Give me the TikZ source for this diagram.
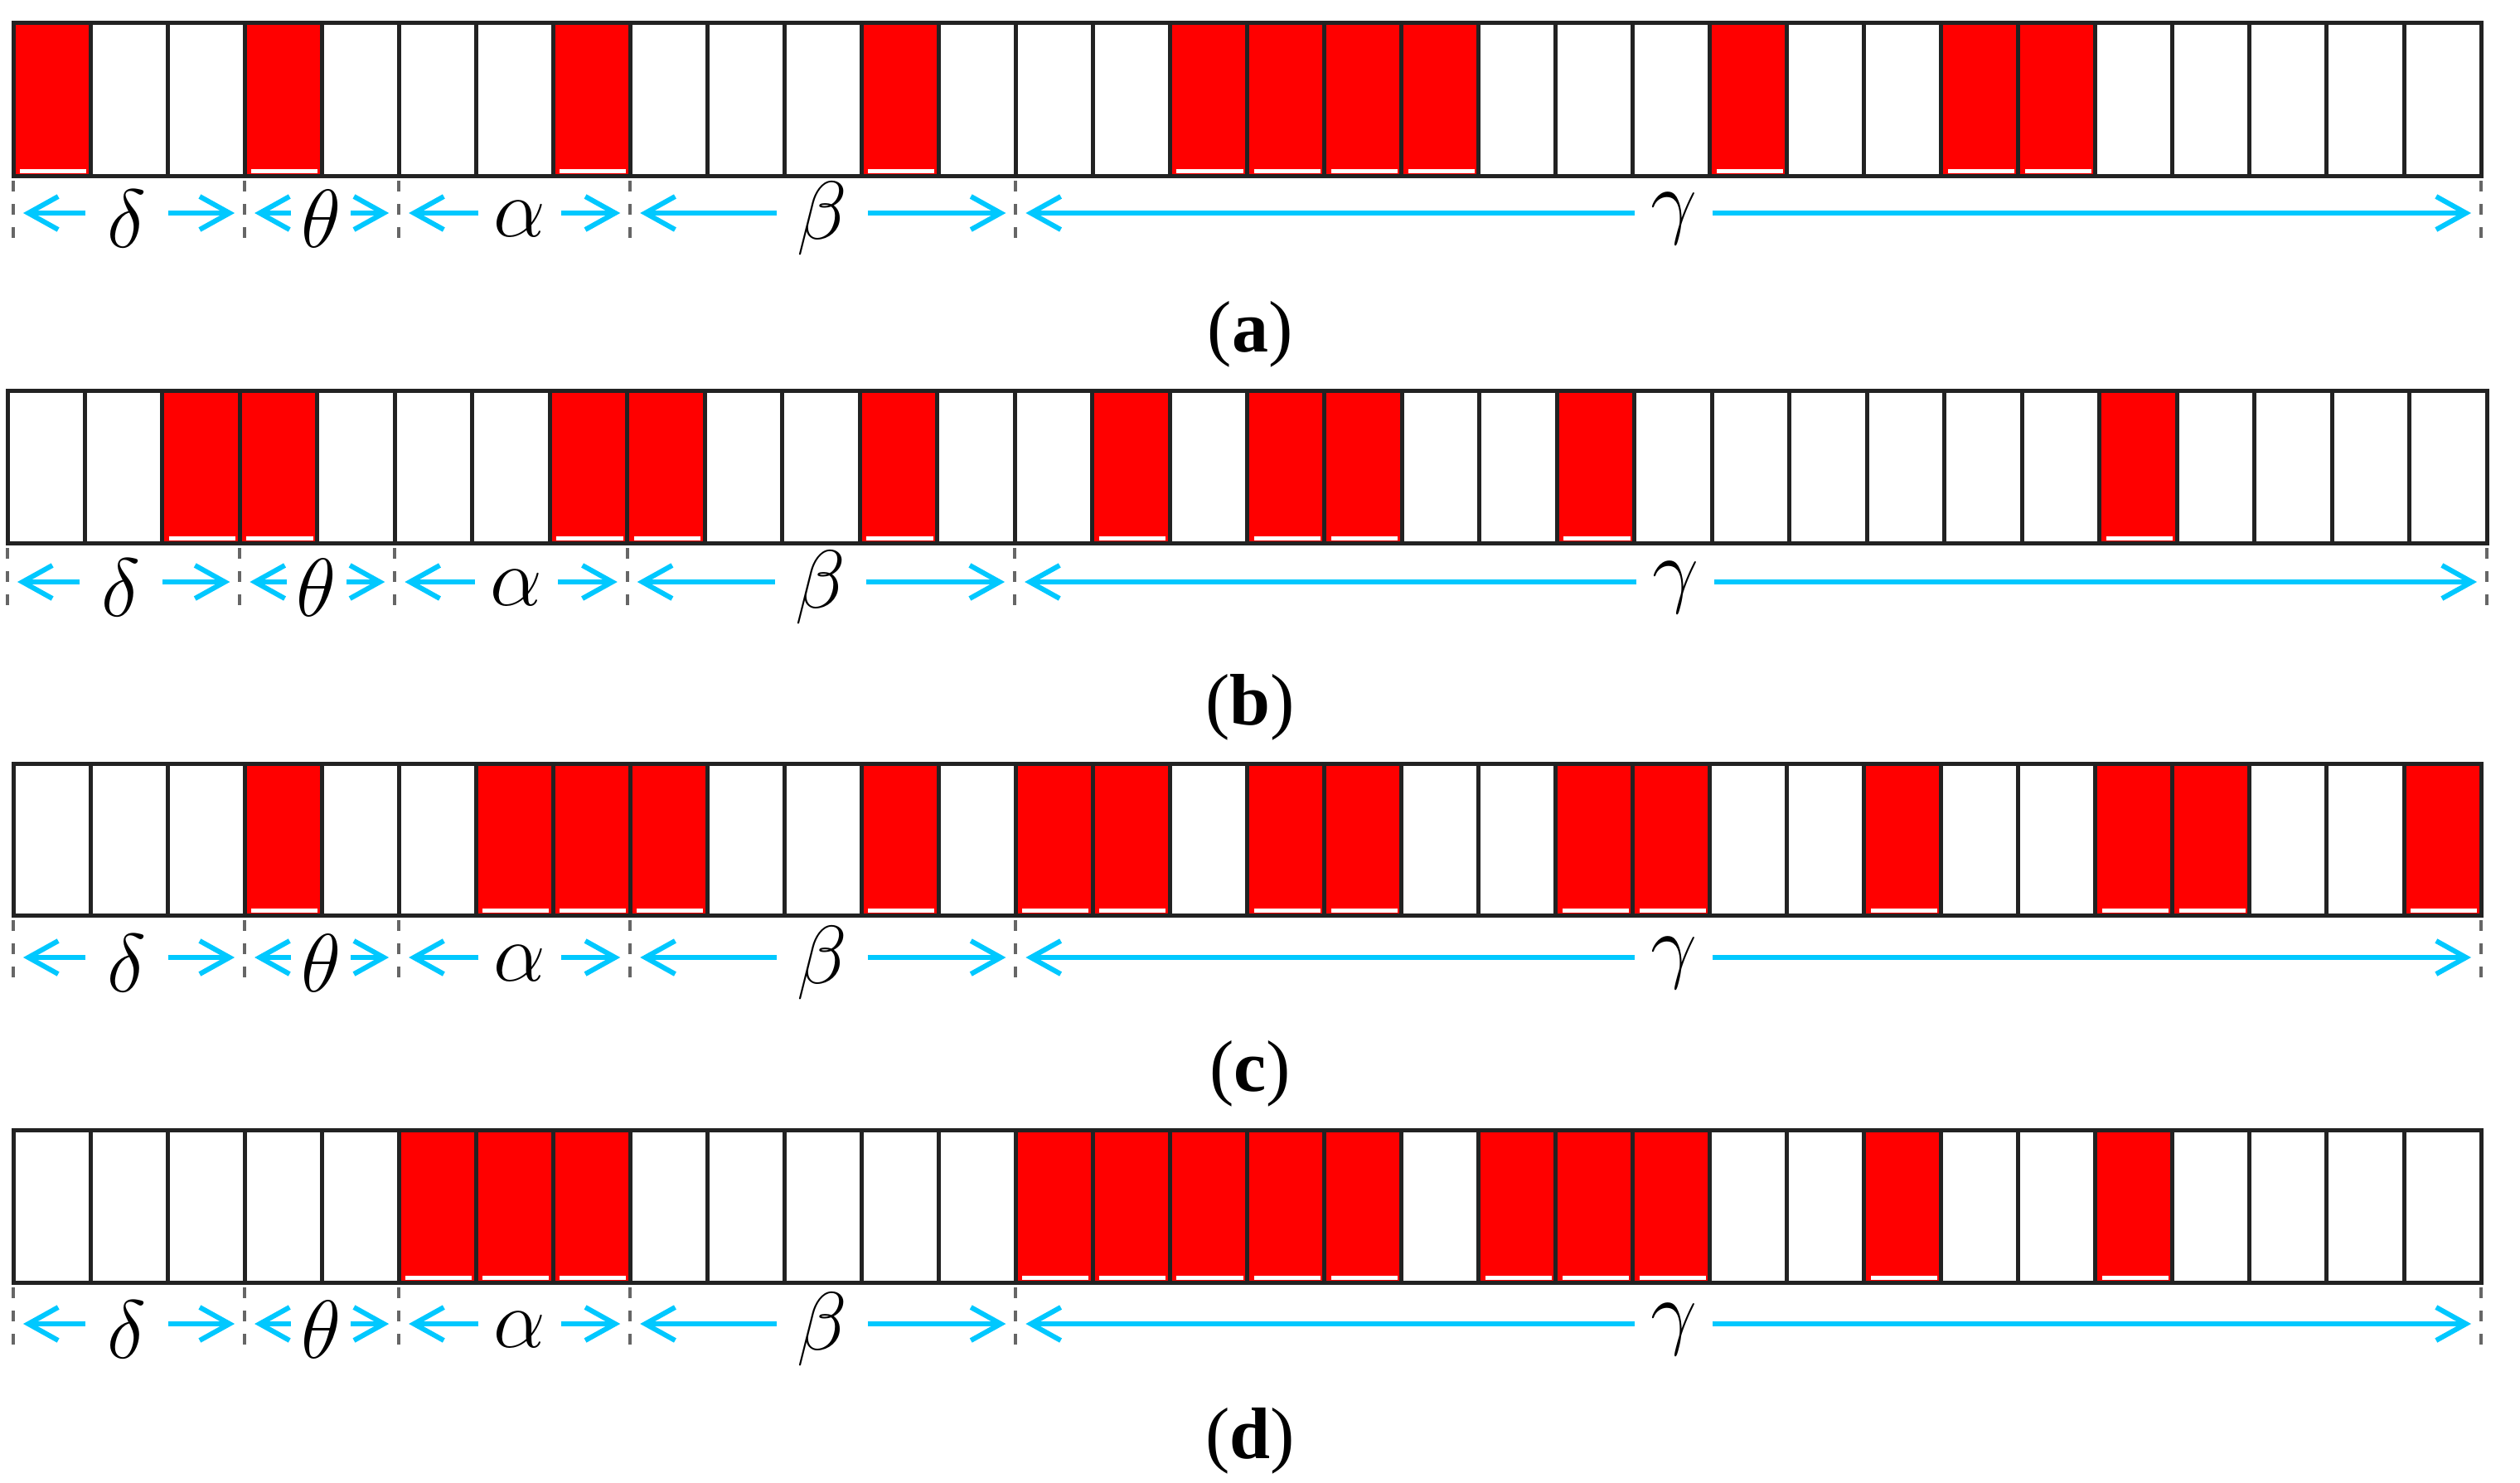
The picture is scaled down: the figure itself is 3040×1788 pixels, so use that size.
\documentclass[tikz,border=0pt]{standalone}
\usepackage{fontspec}
\setmainfont{Liberation Serif}
\usetikzlibrary{arrows.meta}
\definecolor{cellred}{RGB}{255,0,0}
\definecolor{arrowblue}{RGB}{0,200,255}
\definecolor{gridline}{RGB}{34,34,34}
\tikzset{
  cellborder/.style={draw=gridline, line width=1.25pt},
  spanarrow/.style={draw=arrowblue, line width=1.5pt, -{Straight Barb[length=9pt,width=10pt]}},
  divider/.style={draw=black!60, line width=1pt, dash pattern=on 3.25pt off 3.75pt},
  greek/.style={inner sep=0pt, font=\fontsize{23.5}{28}\selectfont},
  caption/.style={inner sep=0pt, font=\fontsize{22}{26}\selectfont},
}
% #1 left, #2 right, #3 top, #4 bottom, #5 arrow y, #6 red cells, #7 row name
\newcommand\cellrow[7]{%
  \pgfmathsetmacro\cw{(#2-#1)/32}
  \foreach \i in {#6}{
    \fill[cellred] ({#1+\i*\cw},#3) rectangle ({#1+(\i+1)*\cw},#4);
    \fill[white] ({#1+\i*\cw+8},#4-8) rectangle ({#1+(\i+1)*\cw-5},#4-3);
  }
  \draw[cellborder] (#1,#3) rectangle (#2,#4);
  \foreach \k in {1,...,31}{
    \draw[cellborder] ({#1+\k*\cw},#3) -- ({#1+\k*\cw},#4);
  }
  \foreach \k in {0,3,5,8,13,32}{
    \draw[divider] ({#1+\k*\cw},#4+6) -- ({#1+\k*\cw},#4+80);
  }
  \foreach \ka/\kb/\s/\g/\c in {0/3/\delta/50/1.47, 3/5/\theta/36/3.99, 5/8/\alpha/50/6.57, 8/13/\beta/55/10.49, 13/32/\gamma/47/21.53}{
    \pgfmathsetmacro\xl{#1+\ka*\cw}
    \pgfmathsetmacro\xr{#1+\kb*\cw}
    \pgfmathsetmacro\xc{#1+\c*\cw}
    \node[greek] (#7-\ka) at (\xc,#5+7) {$\s$};
    \coordinate (#7-\ka-l) at (\xl+12,#5);
    \coordinate (#7-\ka-r) at (\xr-12,#5);
    \draw[spanarrow] (\xc-\g,#5) -- (#7-\ka-l);
    \draw[spanarrow] (\xc+\g,#5) -- (#7-\ka-r);
  }
}
\begin{document}
\begin{tikzpicture}[x=0.25pt,y=-0.25pt]
  \useasboundingbox (0,0) rectangle (3040,1788);
  \fill[white] (0,0) rectangle (3040,1788);
  \cellrow{16}{2993}{27}{212}{257}{0,3,7,11,15,16,17,18,22,25,26}{ra}
  \node[caption] (lab-a) at (1508,403) {(\textbf{a})};
  \cellrow{9}{3000}{471}{655}{702}{2,3,7,8,11,14,16,17,20,27}{rb}
  \node[caption] (lab-b) at (1508,853) {(\textbf{b})};
  \cellrow{16}{2993}{921}{1104}{1155}{3,6,7,8,11,13,14,16,17,20,21,24,27,28,31}{rc}
  \node[caption] (lab-c) at (1508,1295) {(\textbf{c})};
  \cellrow{16}{2993}{1363}{1547}{1597}{5,6,7,13,14,15,16,17,19,20,21,24,27}{rd}
  \node[caption] (lab-d) at (1508,1738) {(\textbf{d})};
\end{tikzpicture}
\end{document}
